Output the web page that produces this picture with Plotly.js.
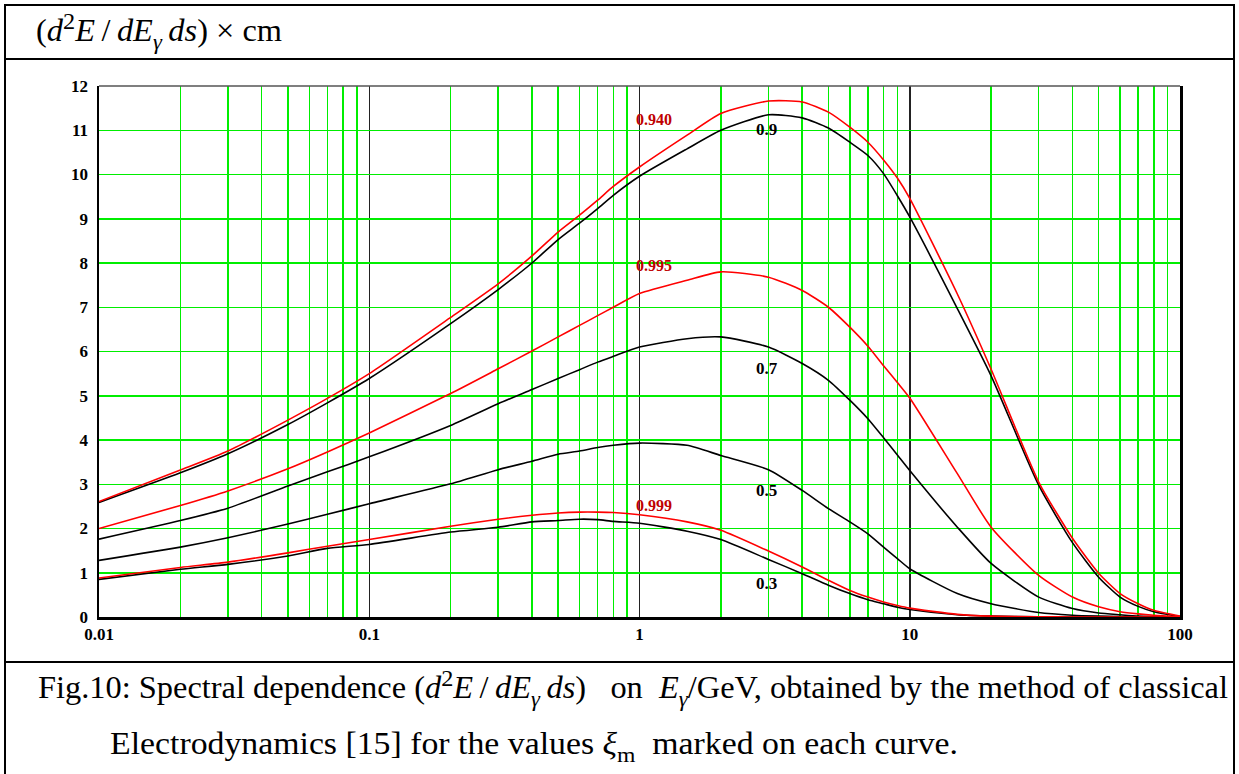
<!DOCTYPE html>
<html>
<head>
<meta charset="utf-8">
<script src="https://cdn.plot.ly/plotly-3.0.1.min.js"></script>
<style>
  html, body { margin: 0; padding: 0; background: #fff; }
  #wrap { position: relative; width: 1239px; height: 774px; overflow: hidden; font-family: "Liberation Serif", "Times New Roman", serif; }
  #plot { position: absolute; left: 0; top: 0; width: 1239px; height: 774px; }
  .ln { position: absolute; background: #000; z-index: 5; }
  .txt { position: absolute; z-index: 6; color: #000; white-space: nowrap; line-height: 1.15; font-family: "Liberation Serif", "Times New Roman", serif; transform-origin: 0 50%; }
  sup { font-size: 75%; vertical-align: 0.5em; line-height: 0; }
  sub { font-size: 70%; vertical-align: -0.35em; line-height: 0; }
</style>
</head>
<body>
<div id="wrap">
  <div id="plot"></div>
  <div class="ln" style="left:4px; top:4px; width:2px; height:770px;"></div>
  <div class="ln" style="left:1233px; top:4px; width:2px; height:770px;"></div>
  <div class="ln" style="left:4px; top:4px; width:1231px; height:2px;"></div>
  <div class="ln" style="left:4px; top:58px; width:1231px; height:2px;"></div>
  <div class="ln" style="left:4px; top:661px; width:1231px; height:2px;"></div>
  <div class="txt fit" data-w="246" style="left:36px; top:13px; font-size:31px;">(<i>d</i><sup>2</sup><i>E</i>&thinsp;/&thinsp;<i>dE</i><sub><i>γ</i></sub>&thinsp;<i>ds</i>) × cm</div>
  <div class="txt fit" data-w="1190" style="left:38px; top:670px; font-size:31px;">Fig.10: Spectral dependence (<i>d</i><sup>2</sup><i>E</i>&thinsp;/&thinsp;<i>dE</i><sub><i>γ</i></sub>&thinsp;<i>ds</i>)&nbsp;&nbsp; on&nbsp; <i>E</i><sub><i>γ</i></sub>/GeV, obtained by the method of classical</div>
  <div class="txt fit" data-w="848" style="left:110px; top:726px; font-size:31px;">Electrodynamics [15] for the values <i>ξ</i><sub>m</sub>&nbsp; marked on each curve.</div>
</div>
<script>
// Photon energy E_gamma / GeV
const energy = [0.01, 0.02, 0.03, 0.05, 0.07, 0.1, 0.2, 0.3, 0.4, 0.5, 0.6, 0.7, 0.8, 1, 1.5, 2, 3, 4, 5, 6, 7, 8, 9, 10, 15, 20, 30, 40, 50, 60, 70, 80, 100];

// d2E/dE ds for each xi_m
const xi0940 = [2.61, 3.32, 3.75, 4.45, 4.94, 5.50, 6.77, 7.53, 8.16, 8.70, 9.08, 9.42, 9.73, 10.17, 10.89, 11.38, 11.66, 11.64, 11.41, 11.07, 10.73, 10.33, 9.92, 9.46, 7.30, 5.60, 3.05, 1.78, 0.99, 0.53, 0.30, 0.15, 0.02];
const xi09   = [2.59, 3.26, 3.69, 4.35, 4.84, 5.39, 6.63, 7.40, 8.00, 8.53, 8.90, 9.23, 9.53, 9.96, 10.58, 11.00, 11.35, 11.28, 11.05, 10.73, 10.43, 10.02, 9.52, 9.04, 6.97, 5.45, 2.98, 1.68, 0.90, 0.45, 0.24, 0.12, 0.01];
const xi0995 = [2.00, 2.52, 2.85, 3.35, 3.73, 4.16, 5.05, 5.61, 6.01, 6.33, 6.59, 6.81, 7.00, 7.31, 7.61, 7.80, 7.68, 7.38, 7.00, 6.55, 6.12, 5.68, 5.30, 4.95, 3.24, 2.03, 0.94, 0.45, 0.23, 0.12, 0.07, 0.04, 0.01];
const xi07   = [1.76, 2.18, 2.46, 2.96, 3.28, 3.62, 4.33, 4.82, 5.14, 5.39, 5.59, 5.76, 5.89, 6.10, 6.29, 6.33, 6.10, 5.73, 5.35, 4.90, 4.48, 4.05, 3.66, 3.31, 2.03, 1.21, 0.45, 0.19, 0.09, 0.05, 0.02, 0.01, 0.00];
const xi05   = [1.28, 1.58, 1.79, 2.10, 2.32, 2.56, 3.01, 3.33, 3.52, 3.68, 3.75, 3.83, 3.88, 3.93, 3.88, 3.65, 3.33, 2.86, 2.45, 2.15, 1.88, 1.58, 1.32, 1.09, 0.53, 0.30, 0.10, 0.04, 0.02, 0.01, 0.00, 0.00, 0.00];
const xi0999 = [0.88, 1.12, 1.24, 1.45, 1.60, 1.75, 2.05, 2.21, 2.30, 2.35, 2.37, 2.37, 2.36, 2.31, 2.15, 1.96, 1.49, 1.13, 0.83, 0.60, 0.45, 0.34, 0.26, 0.20, 0.06, 0.02, 0.005, 0.00, 0.00, 0.00, 0.00, 0.00, 0.00];
const xi03   = [0.85, 1.08, 1.19, 1.38, 1.55, 1.64, 1.92, 2.03, 2.15, 2.18, 2.21, 2.20, 2.16, 2.12, 1.94, 1.75, 1.30, 0.98, 0.72, 0.53, 0.39, 0.30, 0.22, 0.17, 0.05, 0.02, 0.005, 0.00, 0.00, 0.00, 0.00, 0.00, 0.00];

// Tick labels
const xTickVals = [0.01, 0.1, 1, 10, 100];
const xTickText = ["0.01", "0.1", "1", "10", "100"];
const yTickVals = [0, 1, 2, 3, 4, 5, 6, 7, 8, 9, 10, 11, 12];

// Curve labels
const curveLabels = [
  {text: "0.940", e: 0.955, v: 11.25, red: true},
  {text: "0.9",   e: 2.65,  v: 11.02, red: false},
  {text: "0.995", e: 0.955, v: 7.95,  red: true},
  {text: "0.7",   e: 2.65,  v: 5.62,  red: false},
  {text: "0.5",   e: 2.65,  v: 2.86,  red: false},
  {text: "0.999", e: 0.955, v: 2.51,  red: true},
  {text: "0.3",   e: 2.65,  v: 0.76,  red: false}
];

const minorVals = [];
for (let d = -2; d < 2; d++) {
  for (let k = 2; k <= 9; k++) minorVals.push(k * Math.pow(10, d));
}

function tr(y, color) {
  return {x: energy, y: y, type: 'scatter', mode: 'lines',
          line: {color: color, width: 1.6, shape: 'spline', smoothing: 0.6},
          hoverinfo: 'skip', showlegend: false};
}

const data = [
  tr(xi09, '#000000'), tr(xi07, '#000000'), tr(xi05, '#000000'), tr(xi03, '#000000'),
  tr(xi0940, '#ff0000'), tr(xi0995, '#ff0000'), tr(xi0999, '#ff0000')
];

const tickFont = {family: 'Liberation Serif, Times New Roman, serif', size: 17, color: '#000', weight: 'bold'};

const layout = {
  width: 1239, height: 774,
  margin: {l: 99, r: 59, t: 86, b: 157, pad: 0},
  paper_bgcolor: '#ffffff', plot_bgcolor: '#ffffff',
  showlegend: false,
  xaxis: {
    type: 'log', range: [-2, 2],
    tickmode: 'array', tickvals: xTickVals, ticktext: xTickText,
    showgrid: true, gridcolor: '#222222', gridwidth: 1.5,
    minor: {tickmode: 'array', tickvals: minorVals, showgrid: true, gridcolor: '#00ee00', gridwidth: 1.5, ticks: ''},
    showline: true, linecolor: '#000', linewidth: 2.5, mirror: false,
    ticks: '', zeroline: false, tickfont: tickFont
  },
  yaxis: {
    range: [0, 12], tickmode: 'array', tickvals: yTickVals,
    showgrid: true, gridcolor: '#00ee00', gridwidth: 1.5,
    showline: true, linecolor: '#000', linewidth: 2.5, mirror: true,
    ticks: '', zeroline: false, tickfont: tickFont, ticklabelstandoff: 5
  },
  shapes: [
    {type: 'line', xref: 'paper', yref: 'paper', x0: 0, x1: 1, y0: 1, y1: 1, line: {color: '#555', width: 1.5}}
  ],
  annotations: curveLabels.map(l => ({
    x: Math.log10(l.e), y: l.v, xref: 'x', yref: 'y',
    text: l.text, showarrow: false, xanchor: 'left', yanchor: 'middle',
    font: l.red ? {family: 'Liberation Serif, serif', size: 16, color: '#c00000', weight: 'bold'}
                : {family: 'Liberation Serif, serif', size: 17, color: '#000', weight: 'bold'}
  }))
};

Plotly.newPlot('plot', data, layout, {staticPlot: true, displayModeBar: false});

// stretch text lines horizontally to the widths seen in the figure
document.querySelectorAll('.fit').forEach(el => {
  const w = el.getBoundingClientRect().width;
  const target = parseFloat(el.dataset.w);
  if (w > 0) el.style.transform = 'scaleX(' + (target / w).toFixed(4) + ')';
});
</script>
</body>
</html>
